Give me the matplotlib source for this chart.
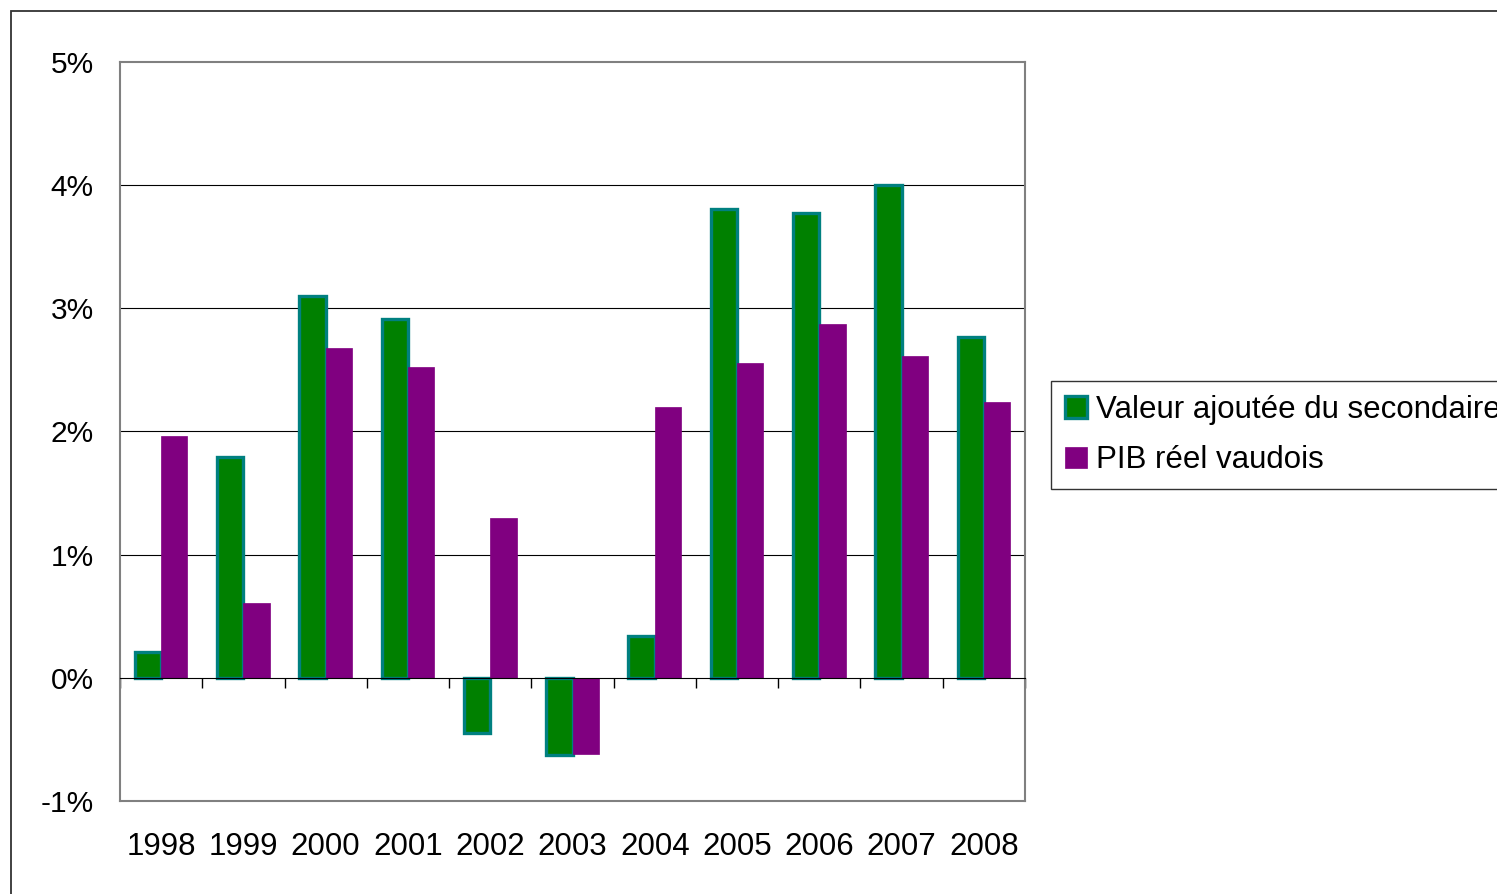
import matplotlib
matplotlib.use("Agg")
import matplotlib.pyplot as plt
import matplotlib.patches as patches
import numpy as np

plt.rcParams['font.family'] = ['Liberation Sans', 'DejaVu Sans']

years = ['1998', '1999', '2000', '2001', '2002', '2003', '2004', '2005', '2006', '2007', '2008']
# growth rates in percent
valeur_secondaire = [0.21, 1.79, 3.10, 2.91, -0.45, -0.63, 0.34, 3.81, 3.77, 4.00, 2.77]
pib_vaudois = [1.96, 0.61, 2.68, 2.52, 1.30, -0.62, 2.20, 2.56, 2.87, 2.61, 2.24]
y_ticks = [-1, 0, 1, 2, 3, 4, 5]

fig = plt.figure(figsize=(14.97, 8.94), dpi=100)
ax = fig.add_axes([120 / 1497, 1 - 801 / 894, 905 / 1497, 739 / 894])

x = np.arange(len(years))
w = 0.32
ax.bar(x - w / 2, valeur_secondaire, w, color='#008000', edgecolor='#008080',
       linewidth=2.4, label='Valeur ajoutée du secondaire', zorder=3)
ax.bar(x + w / 2, pib_vaudois, w, color='#800080', edgecolor='#800080',
       linewidth=0.5, label='PIB réel vaudois', zorder=3)

ax.set_xlim(-0.5, len(years) - 0.5)
ax.set_ylim(-1, 5)
ax.set_yticks(y_ticks)
ax.set_yticklabels([f'{v}%' for v in y_ticks], fontsize=21.5)
ax.tick_params(axis='y', length=0, pad=19)

# gridlines
for v in [1, 2, 3, 4]:
    ax.axhline(v, color='black', linewidth=0.8, zorder=1)

# axis at zero with ticks at the category boundaries
ax.spines['bottom'].set_position(('data', 0))
ax.spines['bottom'].set_color('black')
ax.spines['bottom'].set_zorder(4)
ax.set_xticks(np.arange(len(years) + 1) - 0.5)
ax.set_xticklabels([])
ax.tick_params(axis='x', length=7, direction='out', color='black', width=1)
for s in ['left', 'right', 'top']:
    ax.spines[s].set_color('#808080')
    ax.spines[s].set_linewidth(1.5)
# bottom frame line of the plot area
ax.plot([0, 1], [0, 0], transform=ax.transAxes, color='#808080', linewidth=1.5,
        clip_on=False, zorder=5)

for i, yr in enumerate(years):
    ax.text(i, -0.062, yr, transform=ax.get_xaxis_transform(), ha='center',
            va='center', fontsize=22.5)

leg = fig.legend(loc='upper left', bbox_to_anchor=(1051 / 1497, 1 - 381 / 894),
                 fontsize=22.5, frameon=True, fancybox=False, handlelength=0.7,
                 handleheight=0.7, handletextpad=0.3, borderpad=0.45,
                 labelspacing=0.65, borderaxespad=0)
leg.get_frame().set_edgecolor('black')
leg.get_frame().set_linewidth(1.0)

# outer chart frame
fig.patches.append(patches.Rectangle((11 / 1497, -0.05), 1.1, 1 - 11 / 894 + 0.05,
                                     transform=fig.transFigure, fill=False,
                                     edgecolor='#333333', linewidth=1.3))

fig.savefig('out.png', dpi=100)
